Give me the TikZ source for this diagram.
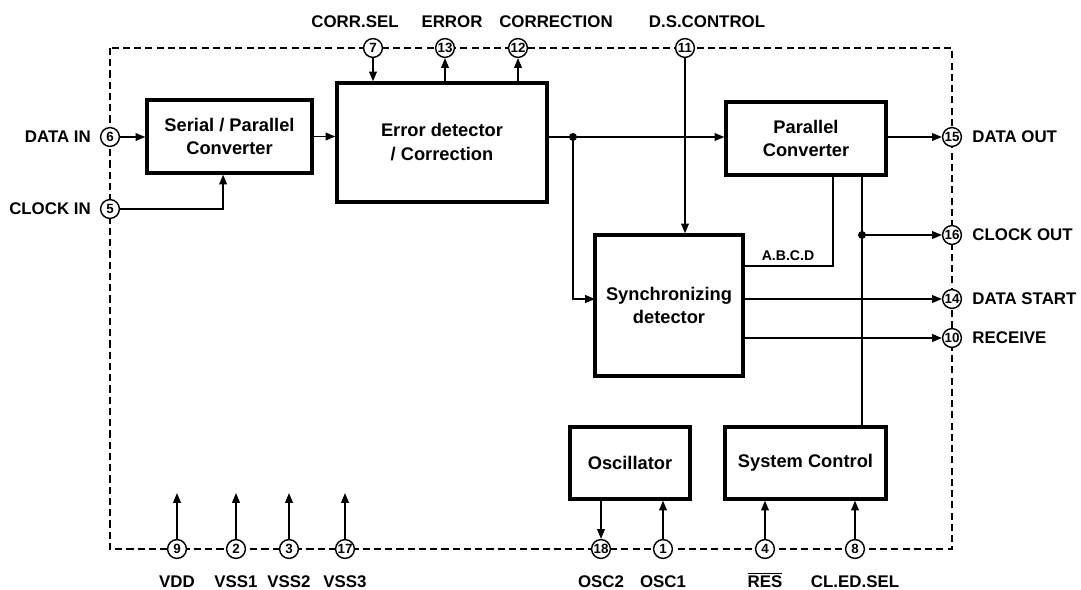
\documentclass[tikz,border=0pt]{standalone}
\usepackage{fontspec}
\setmainfont{Liberation Sans}
\usetikzlibrary{arrows.meta,positioning}

\begin{document}
\begin{tikzpicture}[
    x=0.025cm, y=-0.025cm,
    block/.style={draw, line width=2.3pt, align=center, inner sep=0pt, font=\fontsize{13}{17}\selectfont\bfseries},
    pad/.style={draw, circle, fill=white, line width=1pt, minimum size=0.47cm, inner sep=0pt, font=\fontsize{9.5}{9.5}\selectfont\bfseries},
    lbl/.style={inner sep=0pt, font=\fontsize{12}{12}\selectfont\bfseries},
    dot/.style={circle, fill, inner sep=0pt, minimum size=0.2cm},
    flow/.style={-{Triangle[length=7pt,width=5.5pt]}, line width=1.1pt},
    wire/.style={line width=1.1pt},
    border/.style={dash pattern=on 5pt off 3pt, line width=2pt}
]
\useasboundingbox (0,0) rectangle (1081,590);

% chip outline
\draw[border] (110,48) rectangle (952,549);

% blocks
\node[block, minimum width=4.125cm, minimum height=1.825cm] (serial) at (229.5,136.5) {Serial / Parallel\\Converter};
\node[block, minimum width=5.25cm, minimum height=2.975cm] (error) at (442,142.5) {Error detector\\/ Correction};
\node[block, minimum width=4.0cm, minimum height=1.825cm] (parallel) at (806,138.5) {Parallel\\Converter};
\node[block, minimum width=3.7cm, minimum height=3.525cm] (sync) at (669,305.5) {Synchronizing\\detector};
\node[block, minimum width=3.0cm, minimum height=1.8cm] (osc) at (630,463) {Oscillator};
\node[block, minimum width=4.025cm, minimum height=1.8cm] (sysctl) at (805.5,463) {System Control};

% pins
\node[pad] (p7) at (373,48) {7};
\node[pad] (p13) at (445,48) {13};
\node[pad] (p12) at (518,48) {12};
\node[pad] (p11) at (685,48) {11};
\node[pad] (p6) at (110,137) {6};
\node[pad] (p5) at (110,209) {5};
\node[pad] (p15) at (952,137) {15};
\node[pad] (p16) at (952,235) {16};
\node[pad] (p14) at (952,299) {14};
\node[pad] (p10) at (952,338) {10};
\foreach \n/\x/\t in {9/177/VDD, 2/236/VSS1, 3/289/VSS2, 17/345/VSS3, 18/601/OSC2, 1/663/OSC1, 4/765/{$\overline{\mbox{RES}}$}, 8/855/CL.ED.SEL} {
    \node[pad] (p\n) at (\x,549) {\n};
    \node[lbl, anchor=base] (l\n) at (\x,587) {\t};
}
\foreach \n/\x in {9/177, 2/236, 3/289, 17/345}
    \coordinate (v\n) at (\x,493);

% pin labels
\node[lbl, anchor=base] (l7) at (355,28) {CORR.SEL};
\node[lbl, anchor=base] (l13) at (452,28) {ERROR};
\node[lbl, anchor=base] (l12) at (556,28) {CORRECTION};
\node[lbl, anchor=base] (l11) at (707,28) {D.S.CONTROL};
\node[lbl, left=0.22cm of p6] (l6) {DATA IN};
\node[lbl, left=0.22cm of p5] (l5) {CLOCK IN};
\node[lbl, right=0.25cm of p15] (l15) {DATA OUT};
\node[lbl, right=0.25cm of p16] (l16) {CLOCK OUT};
\node[lbl, right=0.25cm of p14] (l14) {DATA START};
\node[lbl, right=0.25cm of p10] (l10) {RECEIVE};

% signal paths
\draw[flow] (p6) -- (p6 -| serial.west);
\draw[flow] (p5) -| ([xshift=-0.16cm]serial.south);
\draw[flow] (serial.east) -- (serial.east -| error.west);
\draw[flow] (p7) -- (p7 |- error.north);
\draw[flow] (p13 |- error.north) -- (p13);
\draw[flow] (p12 |- error.north) -- (p12);
\coordinate (split) at (573,137);
\draw[wire] (error.east |- split) -- (split);
\draw[flow] (split) -- (split -| parallel.west);
\coordinate (syncin) at (595,299);
\draw[flow] (split) |- (syncin);
\node[dot] (splitdot) at (split) {};
\draw[flow] (p11) -- (p11 |- sync.north);
\draw[flow] (parallel.east |- p15) -- (p15);
\coordinate (abcd) at (833,266);
\draw[wire] (abcd |- parallel.south) -- (abcd) -- (abcd -| sync.east);
\node[lbl, font=\fontsize{10}{10}\selectfont\bfseries, anchor=base] (labcd) at (788,261) {A.B.C.D};
\coordinate (clk) at (862,235);
\draw[wire] (clk |- parallel.south) -- (clk |- sysctl.north);
\node[dot] (clkdot) at (clk) {};
\draw[flow] (clk) -- (p16);
\draw[flow] (sync.east |- p14) -- (p14);
\draw[flow] (sync.east |- p10) -- (p10);
\draw[flow] (p18 |- osc.south) -- (p18);
\draw[flow] (p1) -- (p1 |- osc.south);
\draw[flow] (p4) -- (p4 |- sysctl.south);
\draw[flow] (p8) -- (p8 |- sysctl.south);
\foreach \n in {9,2,3,17}
    \draw[flow] (p\n) -- (v\n);
\end{tikzpicture}
\end{document}
